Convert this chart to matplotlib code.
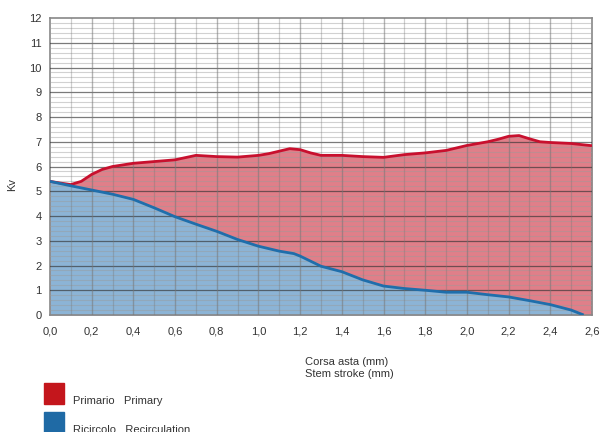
import matplotlib
matplotlib.use("Agg")
import matplotlib.pyplot as plt
from matplotlib.patches import Rectangle
import numpy as np

plt.rcParams['font.family'] = ['Liberation Sans', 'DejaVu Sans']

# Data
stroke_primary = [0, 0.05, 0.1, 0.15, 0.2, 0.25, 0.3, 0.4, 0.5, 0.6, 0.7, 0.8, 0.9, 1.0,
                  1.05, 1.1, 1.15, 1.2, 1.25, 1.3, 1.4, 1.5, 1.6, 1.7, 1.8, 1.9, 2.0,
                  2.1, 2.15, 2.2, 2.25, 2.3, 2.35, 2.4, 2.5, 2.6]
kv_primary = [5.40, 5.33, 5.27, 5.40, 5.68, 5.88, 6.00, 6.13, 6.20, 6.27, 6.45, 6.40,
              6.38, 6.45, 6.52, 6.62, 6.72, 6.68, 6.55, 6.45, 6.45, 6.40, 6.37, 6.48,
              6.55, 6.65, 6.85, 7.00, 7.10, 7.22, 7.25, 7.12, 7.00, 6.97, 6.93, 6.84]

stroke_recirc = [0, 0.1, 0.2, 0.3, 0.4, 0.5, 0.6, 0.7, 0.8, 0.9, 1.0, 1.1, 1.17, 1.2,
                 1.3, 1.4, 1.5, 1.6, 1.7, 1.8, 1.9, 2.0, 2.1, 2.2, 2.3, 2.4, 2.5, 2.56]
kv_recirc = [5.40, 5.22, 5.05, 4.88, 4.67, 4.33, 3.97, 3.67, 3.38, 3.05, 2.78, 2.58,
             2.48, 2.38, 1.97, 1.75, 1.42, 1.17, 1.07, 1.00, 0.92, 0.92, 0.82, 0.73,
             0.58, 0.42, 0.20, 0.00]

x_ticks = [0, 0.2, 0.4, 0.6, 0.8, 1.0, 1.2, 1.4, 1.6, 1.8, 2.0, 2.2, 2.4, 2.6]
x_tick_labels = ["0,0", "0,2", "0,4", "0,6", "0,8", "1,0", "1,2", "1,4", "1,6",
                 "1,8", "2,0", "2,2", "2,4", "2,6"]
y_ticks = list(range(0, 13))

series_names = ["Primario   Primary", "Ricircolo   Recirculation"]
line_colors = ["#c8102e", "#1f6eab"]
fill_colors = ["#e07f89", "#8cb4d6"]
legend_colors = ["#c4161c", "#1f6aa5"]

fig = plt.figure(figsize=(6.01, 4.32), dpi=100)
ax = fig.add_axes([50/601, (432-315)/432, 542/601, 297/432])

ax.set_xlim(0, 2.6)
ax.set_ylim(0, 12)

# fills
ax.fill_between(stroke_primary, 0, kv_primary, color=fill_colors[0], lw=0, zorder=1)
ax.fill_between(stroke_recirc, 0, kv_recirc, color=fill_colors[1], lw=0, zorder=2)

# grid on top of fills (semi-transparent)
for yv in np.arange(0, 12.01, 0.2):
    if abs(yv - round(yv)) < 1e-6:
        continue
    ax.axhline(yv, color="#9a9a9a", lw=0.8, alpha=0.45, zorder=3)
for yv in range(1, 12):
    ax.axhline(yv, color="#333333", lw=0.9, alpha=0.65, zorder=3)
for xv in np.arange(0.1, 2.6, 0.1):
    major = abs(xv * 5 - round(xv * 5)) < 1e-6
    ax.axvline(xv, color="#777777", lw=1.0 if major else 0.9,
               alpha=0.55 if major else 0.35, zorder=3)

# lines
ax.plot(stroke_primary, kv_primary, color=line_colors[0], lw=2.0, zorder=5,
        solid_capstyle='butt')
ax.plot(stroke_recirc, kv_recirc, color=line_colors[1], lw=2.0, zorder=6,
        solid_capstyle='butt')

ax.set_xticks(x_ticks)
ax.set_xticklabels(x_tick_labels)
ax.set_yticks(y_ticks)
ax.tick_params(length=0, labelsize=8, colors="#333333")
ax.tick_params(axis='x', pad=8)
ax.tick_params(axis='y', pad=6)
for s in ax.spines.values():
    s.set_color("#888888")
    s.set_linewidth(1.2)

fig.text(12/601, 1 - 185/432, "Kv", rotation=90, ha='center', va='center',
         fontsize=8, color="#333333")
fig.text(305/601, 1 - 368/432, "Corsa asta (mm)\nStem stroke (mm)", ha='left',
         va='center', fontsize=8, color="#333333", linespacing=1.25)

# legend
for i, (name, col) in enumerate(zip(series_names, legend_colors)):
    y0 = 383 + i * 29
    fig.patches.append(Rectangle((44/601, 1 - (y0 + 21)/432), 20/601, 21/432,
                                 transform=fig.transFigure, color=col, figure=fig))
    fig.text(73/601, 1 - (y0 + 18)/432, name, ha='left', va='center',
             fontsize=8, color="#333333")

fig.savefig("out.png", dpi=100)
